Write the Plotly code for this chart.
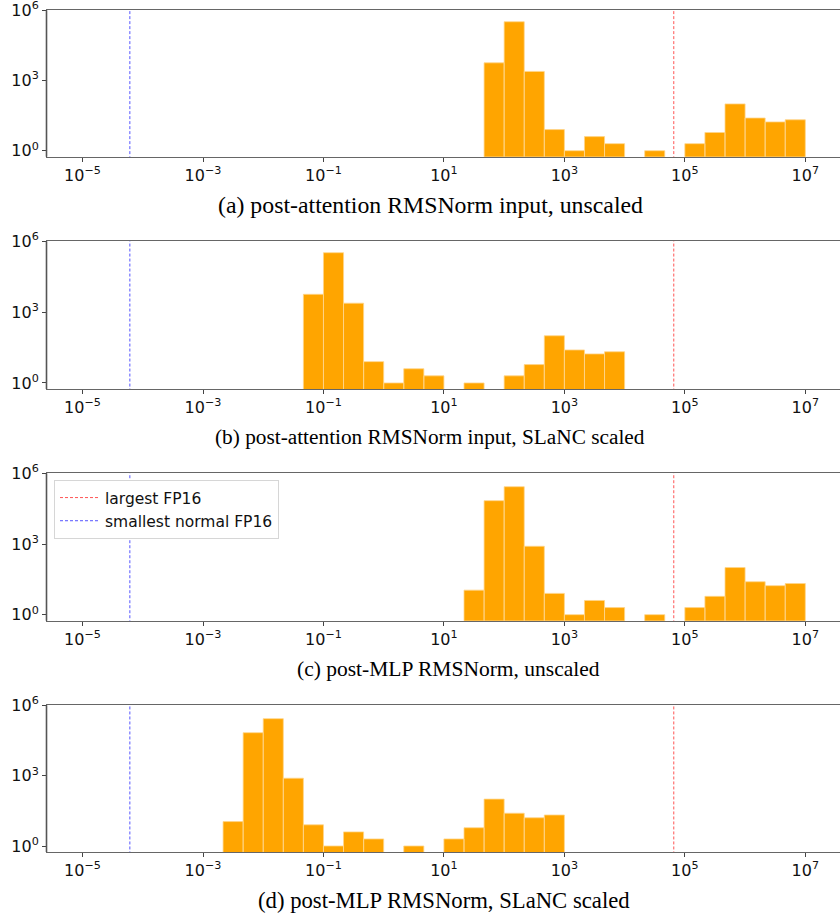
import plotly.graph_objects as go
from plotly.subplots import make_subplots

# ---------------- data ----------------
BINS_PER_DECADE = 3
captions = [
    "(a) post-attention RMSNorm input, unscaled",
    "(b) post-attention RMSNorm input, SLaNC scaled",
    "(c) post-MLP RMSNorm, unscaled",
    "(d) post-MLP RMSNorm, SLaNC scaled",
]
# exponent (log10) of the left edge of the first bin in each panel
first_edge_exp = [5 / 3, -4 / 3, 4 / 3, -8 / 3]
counts_a = [5700, 325000, 2450, 8, 1, 4, 2, 0, 1, 0, 2, 6, 100, 25, 17, 21]
counts_b = [5700, 330000, 2400, 8, 1, 4, 2, 0, 1, 0, 2, 6, 100, 25, 17, 21]
counts_c = [11, 69000, 270000, 800, 8, 1, 4, 2, 0, 1, 0, 2, 6, 100, 25, 17, 21]
counts_d = [11, 68000, 270000, 780, 8, 1, 4, 2, 0, 1, 0, 2, 6, 100, 25, 16, 21]
panel_counts = [counts_a, counts_b, counts_c, counts_d]

FP16_MAX = 65504.0
FP16_MIN_NORMAL = 6.103515625e-05
line_names = ["largest FP16", "smallest normal FP16"]

x_tick_exps = [-5, -3, -1, 1, 3, 5, 7]
y_tick_exps = [0, 3, 6]

# ---------------- layout constants ----------------
W, H = 840, 913
BAR_COLOR = "#FFA500"
plot_left_px = 47
panel_px = [(10.3, 156.7), (241.3, 389.0), (473.3, 620.7), (705.3, 852.0)]
caption_px = [(430.5, 205), (430, 437), (448.5, 669), (444, 900)]
caption_size = [23.8, 21.3, 21.5, 22.7]

fig = make_subplots(rows=4, cols=1)


def sup(e):
    s = str(e).replace("-", "\u2212")
    return f"10<sup>{s}</sup>"


for p, counts in enumerate(panel_counts):
    row = p + 1
    xs, ys = [], []
    base = 0.1
    for i, c in enumerate(counts):
        if c == 0:
            continue
        lo = 10 ** (first_edge_exp[p] + i / BINS_PER_DECADE)
        hi = 10 ** (first_edge_exp[p] + (i + 1) / BINS_PER_DECADE)
        xs += [lo, lo, hi, hi, lo, None]
        ys += [base, c, c, base, base, None]
    fig.add_trace(
        go.Scatter(
            x=xs, y=ys, mode="lines", fill="toself", fillcolor=BAR_COLOR,
            line=dict(color="#FFD58A", width=0.8), showlegend=False,
            hoverinfo="skip",
        ),
        row=row, col=1,
    )
    for k, (val, col) in enumerate([
        (FP16_MAX, "#FF5555"),
        (FP16_MIN_NORMAL, "#5555FF"),
    ]):
        fig.add_trace(
            go.Scatter(
                x=[val, val], y=[0.1, 1e7], mode="lines", name=line_names[k],
                line=dict(color=col, width=1, dash="3px,2px"),
                showlegend=(p == 2), hoverinfo="skip",
            ),
            row=row, col=1,
        )

x0 = plot_left_px / W
for p in range(4):
    top, bot = panel_px[p]
    dom = [1 - bot / H, 1 - top / H]
    sfx = "" if p == 0 else str(p + 1)
    fig.layout["xaxis" + sfx].update(
        type="log", domain=[x0, 1.0], range=[-5.59, 7.576],
        tickvals=[10 ** e for e in x_tick_exps],
        ticktext=[sup(e) for e in x_tick_exps],
        ticks="outside", ticklen=4, tickwidth=1, tickcolor="#444",
        showline=True, linecolor="#666", linewidth=1, mirror=True,
        showgrid=False, zeroline=False, automargin=False,
        ticklabeloverflow="allow",
        tickfont=dict(family="DejaVu Sans", size=16, color="#111"),
    )
    fig.layout["yaxis" + sfx].update(
        type="log", domain=dom, range=[-0.256, 6.001],
        tickvals=[10 ** e for e in y_tick_exps],
        ticktext=[sup(e) for e in y_tick_exps],
        ticks="outside", ticklen=4, tickwidth=1, tickcolor="#444",
        showline=True, linecolor="#555", linewidth=1, mirror=False,
        showgrid=False, zeroline=False, automargin=False,
        ticklabeloverflow="allow",
        tickfont=dict(family="DejaVu Sans", size=16, color="#111"),
    )
    # left spine as a paper-referenced line (spine, not data)
    fig.add_shape(
        type="line", xref="paper", yref="paper",
        x0=(plot_left_px - 0.5) / W, x1=(plot_left_px - 0.5) / W,
        y0=dom[0], y1=dom[1],
        line=dict(color="#555555", width=1.6), layer="above",
    )
    cx, cy = caption_px[p]
    fig.add_annotation(
        x=cx / W, y=1 - cy / H, xref="paper", yref="paper",
        text=captions[p], showarrow=False, xanchor="center", yanchor="middle",
        font=dict(family="Liberation Serif", size=caption_size[p], color="#000"),
    )

fig.update_layout(
    width=W, height=H, margin=dict(l=0, r=0, t=0, b=0),
    paper_bgcolor="white", plot_bgcolor="white",
    legend=dict(
        x=54 / W, y=1 - 480 / H, xanchor="left", yanchor="top",
        bgcolor="white", bordercolor="#d6d6d6", borderwidth=1,
        font=dict(family="DejaVu Sans", size=15.5, color="#111"),
        itemwidth=40,
    ),
)

fig.write_html(
    "out.html",
    config={"displayModeBar": False},
    post_script="document.body.style.margin='0';document.body.style.overflow='hidden';",
)
